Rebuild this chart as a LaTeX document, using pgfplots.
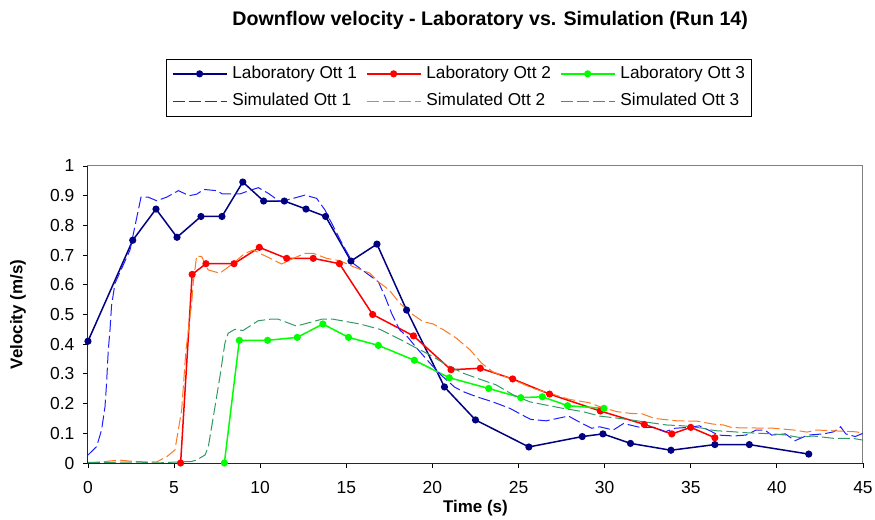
\documentclass[border=0pt]{standalone}
\usepackage{pgfplots}
\pgfplotsset{compat=1.18}
\usepackage{fontspec}
\setmainfont{Liberation Sans}
\definecolor{labone}{RGB}{0,0,128}
\definecolor{labtwo}{RGB}{255,0,0}
\definecolor{labthree}{RGB}{0,255,0}
\definecolor{simone}{RGB}{30,30,255}
\definecolor{simtwo}{RGB}{255,120,30}
\definecolor{simthree}{RGB}{51,153,102}
\begin{document}
\begin{tikzpicture}
\begin{axis}[
  scale only axis, width=775bp, height=297bp,
  xmin=0, xmax=45, ymin=0, ymax=1,
  xtick={0,5,10,15,20,25,30,35,40,45},
  ytick={0,0.1,0.2,0.3,0.4,0.5,0.6,0.7,0.8,0.9,1},
  yticklabel style={xshift=-5bp, /pgf/number format/.cd, fixed, precision=1},
  /pgf/number format/assume math mode=true,
  tick label style={font=\fontsize{17.5}{20}\selectfont},
  tick align=outside, tick pos=left,
  major tick length=5bp,
  tick style={black, line width=0.8bp},
  axis line style={draw=gray, line width=1bp},
  xlabel={Time (s)}, ylabel={Velocity (m/s)},
  every axis x label/.style={at={(axis description cs:0.5,-0.152)}, anchor=center, font=\fontsize{17}{20}\selectfont\bfseries},
  every axis y label/.style={at={(axis description cs:-0.0903,0.5)}, rotate=90, anchor=center, font=\fontsize{17}{20}\selectfont\bfseries},
  xticklabel style={yshift=-10bp},
  clip=false,
  legend columns=3,
  legend cell align=left,
  legend style={at={(axis description cs:0.478,1.264)}, anchor=center, draw=black, line width=0.6bp,
    font=\fontsize{17.3}{20}\selectfont, inner xsep=6bp, inner ysep=7bp, row sep=11.5bp,
    nodes={inner xsep=0bp, inner ysep=0bp, text height=12.5bp, text depth=3.5bp},
    /tikz/every odd column/.append style={column sep=5bp},
    /tikz/every even column/.append style={column sep=9bp}},
  legend image code/.code={\draw[mark repeat=2,mark phase=2,#1] plot coordinates {(0bp,0bp) (27bp,0bp) (54bp,0bp)};},
  lab/.style={line width=1.5bp, mark=*, mark size=2.8bp, mark options={solid}},
  sim/.style={color=#1, draw=#1, line width=1bp, dash pattern=on 12bp off 4bp},
]
\addplot[lab, color=labone, draw=labone] coordinates {
(0,0.41) (2.6,0.75) (3.95,0.855) (5.17,0.76) (6.56,0.83) (7.78,0.83) (8.99,0.946)
(10.2,0.882) (11.4,0.882) (12.66,0.855) (13.8,0.83) (15.27,0.68) (16.78,0.737)
(18.5,0.515) (20.7,0.256) (22.5,0.145) (25.6,0.054) (28.7,0.089) (29.9,0.098)
(31.5,0.066) (33.85,0.043) (36.4,0.062) (38.4,0.062) (41.85,0.03)};
\addlegendentry{Laboratory Ott 1}
\addplot[lab, color=labtwo, draw=labtwo] coordinates {
(5.38,0) (6.05,0.635) (6.85,0.671) (8.48,0.671) (9.95,0.726) (11.54,0.689)
(13.08,0.689) (14.6,0.671) (16.53,0.50) (18.9,0.428) (21.08,0.314) (22.78,0.319)
(24.66,0.283) (26.8,0.232) (29.75,0.175) (32.3,0.130) (33.9,0.098) (35.0,0.12) (36.4,0.085)};
\addlegendentry{Laboratory Ott 2}
\addplot[lab, color=labthree, draw=labthree] coordinates {
(7.92,0) (8.79,0.413) (10.43,0.413) (12.15,0.423) (13.64,0.468) (15.13,0.423)
(16.86,0.396) (18.95,0.346) (20.98,0.287) (23.27,0.251) (25.13,0.22) (26.38,0.223)
(27.85,0.193) (29.96,0.184)};
\addlegendentry{Laboratory Ott 3}
\addplot[sim=simone] coordinates {
(0,0.027) (0.5,0.055) (0.79,0.111) (0.99,0.19) (1.08,0.268) (1.18,0.38) (1.28,0.448)
(1.37,0.53) (1.57,0.605) (2.44,0.717) (3.08,0.895) (3.5,0.895) (3.99,0.883) (4.57,0.895)
(5.25,0.917) (5.88,0.9) (6.31,0.905) (6.73,0.921) (7.47,0.917) (7.8,0.906) (8.83,0.906)
(9.21,0.914) (9.89,0.927) (10.47,0.908) (11.15,0.88) (11.92,0.891) (12.6,0.902)
(13.28,0.891) (13.76,0.852) (14.25,0.796) (14.8,0.734) (15.4,0.672) (16.2,0.638)
(16.86,0.61) (17.25,0.56) (17.63,0.504) (18.1,0.448) (18.55,0.425) (19.1,0.386)
(19.86,0.336) (20.5,0.296) (21.3,0.255) (21.8,0.24) (22.57,0.223) (23.5,0.206)
(24.5,0.184) (25.2,0.162) (25.7,0.147) (26.6,0.142) (27.9,0.158) (28.5,0.139)
(29.25,0.117) (29.7,0.122) (30.5,0.111) (31.1,0.133) (32.05,0.12) (32.9,0.12)
(33.5,0.105) (34.1,0.117) (34.86,0.12) (35.5,0.125) (36.1,0.109) (36.6,0.094)
(37.5,0.091) (38.2,0.094) (38.8,0.111) (39.3,0.111) (39.7,0.094) (40.5,0.098)
(41.05,0.075) (41.8,0.094) (42.7,0.098) (43.3,0.105) (43.7,0.122) (44,0.098)
(44.55,0.089) (45,0.1)};
\addlegendentry{Simulated Ott 1}
\addplot[sim=simtwo] coordinates {
(0,0) (1,0.005) (1.8,0.01) (2.5,0.006) (3.2,0.004) (4,0.004) (4.57,0.021) (5.05,0.044)
(5.44,0.178) (5.69,0.38) (6.02,0.538) (6.11,0.605) (6.31,0.697) (6.6,0.695) (6.98,0.65)
(7.66,0.639) (8.43,0.672) (9.11,0.706) (9.6,0.717) (10.37,0.695) (11.24,0.67)
(11.92,0.689) (12.6,0.706) (13.08,0.706) (13.86,0.689) (14.63,0.681) (15.4,0.661)
(16.37,0.639) (16.86,0.61) (17.5,0.582) (18.1,0.538) (18.9,0.498) (19.46,0.476)
(20.05,0.468) (20.6,0.45) (21.4,0.42) (22.2,0.38) (22.86,0.336) (23.5,0.307)
(24.7,0.28) (25.85,0.251) (26.8,0.235) (27.97,0.214) (29.1,0.203) (29.7,0.19)
(30.7,0.173) (31.5,0.167) (32.2,0.165) (32.9,0.15) (34.2,0.142) (35.35,0.141)
(36.3,0.131) (36.9,0.128) (37.4,0.119) (39.8,0.117) (41,0.111) (41.75,0.104)
(42.3,0.111) (44.6,0.105) (45,0.1)};
\addlegendentry{Simulated Ott 2}
\addplot[sim=simthree] coordinates {
(0,0.002) (3,0.003) (4,0.0) (5,0.003) (6,0.005) (6.3,0.01) (6.8,0.027) (6.99,0.055)
(7.28,0.156) (7.66,0.29) (7.95,0.403) (8.14,0.437) (8.53,0.45) (9.0,0.446) (9.89,0.479)
(10.57,0.484) (11.05,0.484) (12.11,0.461) (13.57,0.484) (14.25,0.484) (15.79,0.468)
(16.95,0.45) (18.2,0.414) (18.9,0.392) (19.86,0.364) (20.83,0.33) (21.8,0.302)
(22.86,0.28) (23.7,0.263) (24.7,0.229) (25.65,0.206) (26.6,0.195) (27.58,0.184)
(28.74,0.173) (29.7,0.158) (30.9,0.15) (32.25,0.139) (33.6,0.128) (34.6,0.125)
(35.7,0.117) (36.4,0.109) (37.5,0.105) (38.2,0.102) (39.8,0.098) (40.55,0.094)
(41.3,0.086) (42.1,0.091) (43.3,0.083) (44.4,0.083) (45,0.077)};
\addlegendentry{Simulated Ott 3}
\draw[black!85, line width=1bp] (axis description cs:0,1) -- (axis description cs:0,0) -- (axis description cs:1,0);
\node[font=\fontsize{19.7}{22}\selectfont\bfseries] at (axis description cs:0.519,1.490) {Downflow velocity - Laboratory vs. Simulation (Run 14)};
\coordinate (BBsw) at (axis description cs:-0.1135,-0.1886);
\coordinate (BBne) at (axis description cs:1.0155,1.5589);
\end{axis}
\pgfresetboundingbox
\path[use as bounding box] (BBsw) rectangle (BBne);
\end{tikzpicture}
\end{document}
